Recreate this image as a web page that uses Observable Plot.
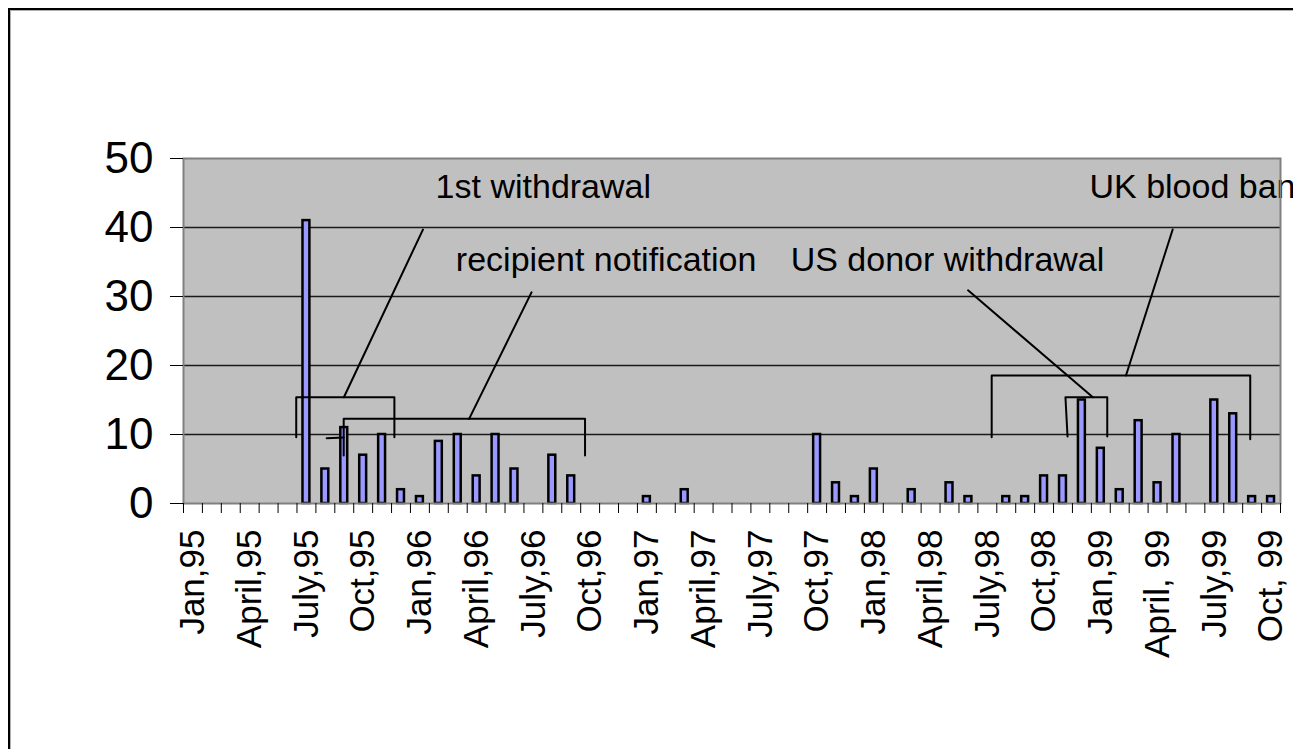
<!DOCTYPE html>
<html>
<head>
<meta charset="utf-8">
<script src="https://cdn.jsdelivr.net/npm/d3@7"></script>
<script src="https://cdn.jsdelivr.net/npm/@observablehq/plot@0.6"></script>
<style>
  html, body { margin: 0; padding: 0; background: #fff; overflow: hidden; }
  #chart { position: absolute; left: 0; top: 0; }
  #frame { position: absolute; left: 8px; top: 8px; width: 1400px; height: 800px;
           border-left: 2px solid #000; border-top: 2px solid #000;
           box-shadow: inset 1px 1px 0 #b0b0b0; pointer-events: none; }
</style>
</head>
<body>
<div id="chart"></div>
<div id="frame"></div>
<script>
// Monthly counts, Jan 1995 (index 0) to Oct 1999 (index 57)
const counts = [
  0, 0, 0, 0, 0, 0, 41, 5, 11, 7, 10, 2,      // 1995
  1, 9, 10, 4, 10, 5, 0, 7, 4, 0, 0, 0,       // 1996
  1, 0, 2, 0, 0, 0, 0, 0, 0, 10, 3, 1,        // 1997
  5, 0, 2, 0, 3, 1, 0, 1, 1, 4, 4, 15,        // 1998
  8, 2, 12, 3, 10, 0, 15, 13, 1, 1            // 1999
];

// Tick labels, one every three months starting Jan 1995
const tickLabels = [
  "Jan,95", "April,95", "July,95", "Oct,95",
  "Jan,96", "April,96", "July,96", "Oct,96",
  "Jan,97", "April,97", "July,97", "Oct,97",
  "Jan,98", "April,98", "July,98", "Oct,98",
  "Jan,99", "April, 99", "July,99", "Oct, 99"
];
const tickLabelMonths = [0, 3, 6, 9, 12, 15, 18, 21, 24, 27, 30, 33, 36, 39, 42, 45, 48, 51, 54, 57];
const yTicks = [0, 10, 20, 30, 40, 50];
const gridValues = [10, 20, 30, 40];

// Annotation texts (x in months, y in counts)
const annotationNames = ["1st withdrawal", "recipient notification", "US donor withdrawal", "UK blood ban"];
const annotationX = [13.33, 14.4, 32.1, 47.9];
const annotationY = [45.9, 35.25, 35.25, 45.9];

// Annotation bracket / leader polylines: [pathId, month, count]
const annotationPaths = [
  ["w1", 5.96, 9.6], ["w1", 5.96, 15.4], ["w1", 11.15, 15.4], ["w1", 11.15, 9.6],
  ["w1L", 8.48, 15.4], ["w1L", 12.66, 39.7],
  ["rn", 8.47, 6.96], ["rn", 8.47, 12.27], ["rn", 21.23, 12.27], ["rn", 21.23, 6.96],
  ["rnL", 15.1, 12.27], ["rnL", 18.4, 30.6],
  ["rnT", 7.57, 9.46], ["rnT", 8.47, 9.57],
  ["us", 46.74, 9.7], ["us", 46.63, 15.4], ["us", 48.84, 15.4], ["us", 48.84, 9.7],
  ["usL", 48.08, 15.4], ["usL", 41.48, 30.9],
  ["uk", 42.73, 9.6], ["uk", 42.73, 18.55], ["uk", 56.4, 18.55], ["uk", 56.4, 9.3],
  ["ukL", 49.83, 18.55], ["ukL", 52.3, 39.7]
];

const nMonths = counts.length;
const bars = counts.map((c, i) => ({month: i, count: c})).filter(d => d.count > 0);
const texts = annotationNames.map((t, i) => ({text: t, x: annotationX[i], y: annotationY[i]}));
const paths = annotationPaths.map(([id, x, y]) => ({id, x, y}));
const labelMap = new Map(tickLabelMonths.map((m, i) => [m + 0.5, tickLabels[i]]));
const boundaries = d3.range(0, nMonths + 1);

const font = "'Liberation Sans', Arial, Helvetica, sans-serif";

const chart = Plot.plot({
  width: 1293,
  height: 749,
  marginLeft: 183,
  marginRight: 13,
  marginTop: 158,
  marginBottom: 246,
  style: {fontFamily: font, color: "#000", background: "transparent", overflow: "visible"},
  x: {type: "linear", domain: [0, nMonths], axis: null},
  y: {domain: [0, 50], axis: null},
  marks: [
    Plot.frame({fill: "#c0c0c0", stroke: null}),
    Plot.ruleY(gridValues, {stroke: "#1a1a1a", strokeWidth: 1.5}),
    Plot.rectY(bars, {
      x1: "month", x2: d => d.month + 1, y: "count",
      insetLeft: 6, insetRight: 6,
      fill: "#9999ff", stroke: "#000", strokeWidth: 2.5
    }),
    Plot.line(paths, {x: "x", y: "y", z: "id", stroke: "#000", strokeWidth: 2, curve: "linear"}),
    Plot.text(texts, {
      x: "x", y: "y", text: "text", textAnchor: "start",
      fontSize: 34, fill: "#000"
    }),
    Plot.frame({stroke: "#808080", strokeWidth: 2}),
    Plot.axisY({
      ticks: yTicks, tickSize: 13, tickPadding: 17, fontSize: 44,
      tickFormat: d => String(d), label: null, stroke: "#000"
    }),
    Plot.axisX({
      ticks: boundaries, tickSize: 10, tickFormat: () => "", label: null, stroke: "#000"
    }),
    Plot.axisX({
      ticks: tickLabelMonths.map(m => m + 0.5), tickSize: 0, tickPadding: 26,
      tickRotate: -90, fontSize: 35, tickFormat: d => labelMap.get(d), label: null
    })
  ]
});
document.getElementById("chart").appendChild(chart);
</script>
</body>
</html>
